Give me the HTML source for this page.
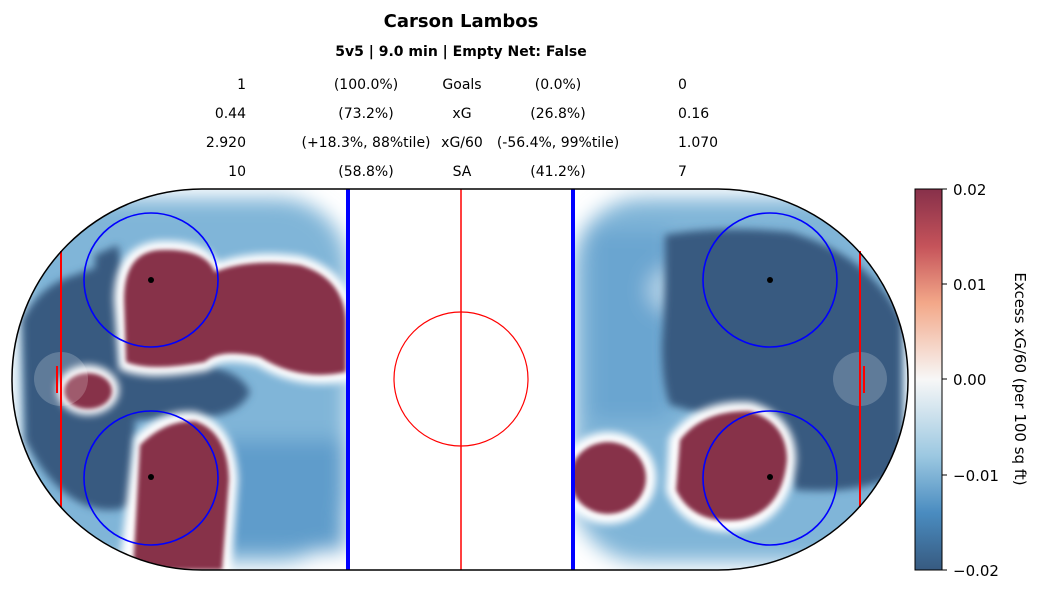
<!DOCTYPE html>
<html><head><meta charset="utf-8"><style>
body{margin:0;background:#fff;width:1041px;height:593px;overflow:hidden;font-family:"DejaVu Sans",sans-serif}
</style></head><body>
<svg width="1041" height="593" xmlns="http://www.w3.org/2000/svg" font-family="DejaVu Sans, sans-serif">
<defs>
<clipPath id="rink"><rect x="12" y="189" width="896" height="381" rx="190" ry="190"/></clipPath>
<filter id="b6" x="-30%" y="-30%" width="160%" height="160%"><feGaussianBlur stdDeviation="4"/></filter>
<filter id="b10" x="-30%" y="-30%" width="160%" height="160%"><feGaussianBlur stdDeviation="10"/></filter>
<filter id="b2" x="-30%" y="-30%" width="160%" height="160%"><feGaussianBlur stdDeviation="2"/></filter>
<linearGradient id="cb" x1="0" y1="0" x2="0" y2="1">
<stop offset="0" stop-color="#87304a"/><stop offset="0.15" stop-color="#c5535a"/><stop offset="0.3" stop-color="#f3a889"/><stop offset="0.5" stop-color="#f7f7f7"/><stop offset="0.7" stop-color="#9cc8e1"/><stop offset="0.85" stop-color="#4a8cc0"/><stop offset="1" stop-color="#375a80"/>
</linearGradient>
</defs>
<g text-anchor="middle">
<text x="461" y="27" font-size="18" font-weight="bold">Carson Lambos</text>
<text x="461" y="56" font-size="14" font-weight="bold">5v5 | 9.0 min | Empty Net: False</text>
</g>
<g font-size="14">
<g text-anchor="end"><text x="246" y="89">1</text><text x="246" y="118">0.44</text><text x="246" y="147">2.920</text><text x="246" y="176">10</text></g>
<g text-anchor="middle"><text x="366" y="89">(100.0%)</text><text x="366" y="118">(73.2%)</text><text x="366" y="147">(+18.3%, 88%tile)</text><text x="366" y="176">(58.8%)</text>
<text x="462" y="89">Goals</text><text x="462" y="118">xG</text><text x="462" y="147">xG/60</text><text x="462" y="176">SA</text>
<text x="558" y="89">(0.0%)</text><text x="558" y="118">(26.8%)</text><text x="558" y="147">(-56.4%, 99%tile)</text><text x="558" y="176">(41.2%)</text></g>
<g><text x="678" y="89">0</text><text x="678" y="118">0.16</text><text x="678" y="147">1.070</text><text x="678" y="176">7</text></g>
</g>
<g clip-path="url(#rink)">
<rect x="0" y="180" width="1041" height="400" fill="#fff"/>
<g filter="url(#b10)">
<rect x="22" y="198" width="326" height="364" rx="70" fill="#80b5d8"/>
<rect x="573" y="198" width="326" height="364" rx="70" fill="#80b5d8"/>
<rect x="220" y="440" width="125" height="110" fill="#5f9ccb"/>
<rect x="590" y="230" width="80" height="190" fill="#6aa5d0"/>
<circle cx="670" cy="290" r="22" fill="#b2d3e8"/>
</g>
<g filter="url(#b6)" fill="#375a80">
<path d="M22 320 Q40 285 75 275 Q100 265 122 262 L122 365 L200 365 Q240 370 250 392 Q240 415 200 418 L135 420 L132 505 Q110 515 85 505 Q50 490 25 440 Z"/>
<path d="M95 255 L118 245 L122 270 L95 275 Z"/>
<path d="M665 235 Q720 225 790 232 Q870 255 902 320 L902 470 Q870 495 795 490 L785 455 Q730 420 670 405 Q662 385 662 345 Q665 300 665 260 Z"/>
</g>
<g fill="#ffffff" filter="url(#b6)">
<path d="M120 300 Q120 250 160 247 Q205 245 215 270 Q250 255 300 262 Q345 275 348 320 L348 375 Q300 385 260 360 Q220 350 205 365 Q150 375 125 365 Z" stroke="#fff" stroke-width="12"/>
<ellipse cx="88" cy="390" rx="31" ry="25"/>
<path d="M140 440 Q165 415 195 418 Q230 430 232 480 L225 570 L125 570 Z" stroke="#fff" stroke-width="12"/>
<ellipse cx="608" cy="478" rx="48" ry="46"/>
<path d="M675 440 Q700 405 750 408 Q790 420 790 460 Q785 515 740 525 Q690 530 672 490 Z" stroke="#fff" stroke-width="12"/>
</g>
<g fill="#87304a" filter="url(#b2)">
<path d="M124 300 Q124 252 160 250 Q205 248 215 272 Q250 258 300 265 Q343 278 346 320 L346 372 Q300 382 260 357 Q220 348 205 362 Q150 372 126 362 Z"/>
<ellipse cx="88" cy="391" rx="24" ry="18"/>
<path d="M140 445 Q165 420 195 421 Q228 432 229 480 L222 570 L133 570 Z"/>
<ellipse cx="608" cy="478" rx="38" ry="36"/>
<path d="M680 440 Q703 410 750 411 Q787 423 787 460 Q782 512 740 520 Q693 525 676 490 Z"/>
</g>
<rect x="349" y="185" width="223" height="390" fill="#fff"/>
<circle cx="61" cy="379" r="27" fill="#fff" opacity="0.2"/>
<circle cx="860" cy="379" r="27" fill="#fff" opacity="0.2"/>
</g>
<line x1="61" y1="251" x2="61" y2="507" stroke="red" stroke-width="2"/>
<line x1="860" y1="251" x2="860" y2="507" stroke="red" stroke-width="2"/>
<line x1="57" y1="366" x2="57" y2="393" stroke="red" stroke-width="2"/>
<line x1="864" y1="366" x2="864" y2="393" stroke="red" stroke-width="2"/>
<line x1="461" y1="189" x2="461" y2="570" stroke="red" stroke-width="1.5"/>
<circle cx="461" cy="379" r="67" fill="none" stroke="red" stroke-width="1.2"/>
<line x1="348" y1="189" x2="348" y2="570" stroke="#00f" stroke-width="4"/>
<line x1="573" y1="189" x2="573" y2="570" stroke="#00f" stroke-width="4"/>
<g fill="none" stroke="#00f" stroke-width="1.6">
<circle cx="151" cy="280" r="67"/><circle cx="151" cy="478" r="67"/>
<circle cx="770" cy="280" r="67"/><circle cx="770" cy="478" r="67"/>
</g>
<g fill="#000"><circle cx="151" cy="280" r="3"/><circle cx="151" cy="477" r="3"/><circle cx="770" cy="280" r="3"/><circle cx="770" cy="477" r="3"/></g>
<rect x="12" y="189" width="896" height="381" rx="190" ry="190" fill="none" stroke="#000" stroke-width="1.5"/>
<rect x="915" y="189" width="27" height="381" fill="url(#cb)" stroke="#000" stroke-width="1"/>
<g stroke="#000"><line x1="942" y1="189" x2="947" y2="189"/><line x1="942" y1="284" x2="947" y2="284"/><line x1="942" y1="379" x2="947" y2="379"/><line x1="942" y1="475" x2="947" y2="475"/><line x1="942" y1="570" x2="947" y2="570"/></g>
<g font-size="15"><text x="953" y="195">0.02</text><text x="953" y="290">0.01</text><text x="953" y="385">0.00</text><text x="953" y="481">−0.01</text><text x="953" y="576">−0.02</text></g>
<text transform="translate(1015,379) rotate(90)" text-anchor="middle" font-size="15">Excess xG/60 (per 100 sq ft)</text>
</svg>
</body></html>
